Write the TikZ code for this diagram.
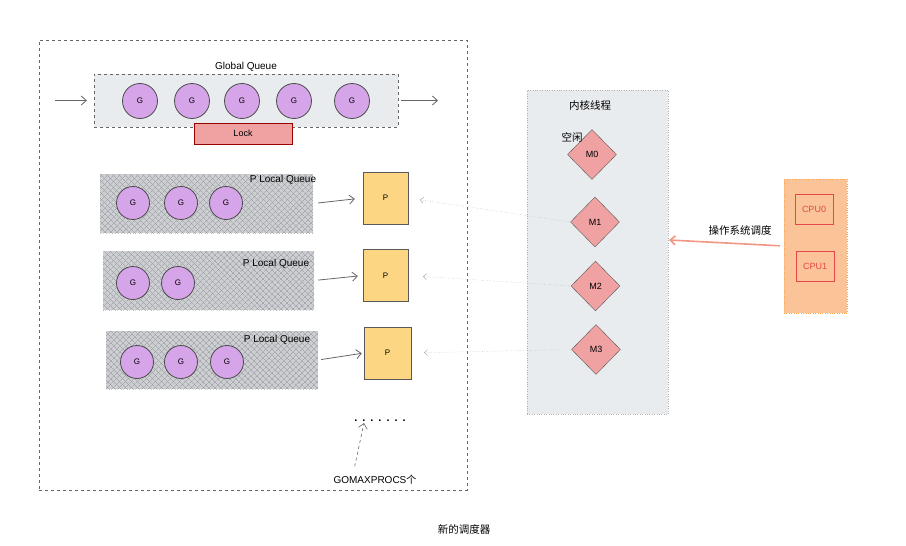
\documentclass[tikz,border=0pt]{standalone}
\usepackage{fontspec}
\setmainfont{Liberation Sans}
\newfontfamily\cjk{Noto Sans CJK SC}
\usetikzlibrary{positioning,shapes.geometric,arrows.meta,patterns.meta}
\definecolor{gpurple}{RGB}{214,164,232}
\definecolor{pyellow}{RGB}{252,214,130}
\definecolor{mpink}{RGB}{240,162,162}
\definecolor{lightpanel}{RGB}{233,236,239}
\definecolor{queuegray}{RGB}{204,206,209}
\definecolor{hatchgray}{RGB}{145,148,153}
\definecolor{cpupeach}{RGB}{250,196,152}
\definecolor{cpured}{RGB}{228,72,72}
\definecolor{osarrow}{RGB}{240,150,130}
\begin{document}
\begin{tikzpicture}[x=1pt,y=-1pt,
  gnode/.style={circle,draw=black!70,thick,fill=gpurple,minimum size=#1,inner sep=0,
    font=\fontsize{8}{9}\selectfont},
  gnode/.default=35pt,
  gqbox/.style={draw=black!60,dashed,preaction={fill=lightpanel},
    pattern={Lines[angle=45,distance=4pt,line width=0.3pt]},pattern color=black!8},
  lqbox/.style={preaction={fill=queuegray},
    preaction={pattern={Lines[angle=45,distance=4pt,line width=0.4pt]},pattern color=hatchgray},
    pattern={Lines[angle=-45,distance=4pt,line width=0.4pt]},pattern color=hatchgray},
  lockbox/.style={draw=red!60!black,fill=mpink,font=\fontsize{9}{10}\selectfont},
  pbox/.style={draw=black!65,fill=pyellow,minimum width=45pt,minimum height=52pt,
    font=\fontsize{8}{9}\selectfont},
  mnode/.style={diamond,draw=black!65,fill=mpink,minimum width=49pt,minimum height=50pt,
    inner sep=0,font=\fontsize{9}{10}\selectfont},
  panel/.style={draw=black!30,dotted,fill=lightpanel},
  cpupanel/.style={draw=orange!70,dotted,fill=cpupeach},
  cpubox/.style={draw=cpured,text=cpured,minimum width=38pt,minimum height=30pt,
    font=\fontsize{9}{10}\selectfont},
  qlabel/.style={font=\fontsize{10}{11}\selectfont,inner sep=1pt},
  cjklabel/.style={font=\cjk\fontsize{10.5}{12}\selectfont,inner sep=1pt},
  arr/.style={-{Straight Barb[length=5pt,width=9pt]},draw=black!60,thick},
  mlink/.style={-{Straight Barb[length=3pt,width=6pt]},draw=black!40,dotted},
  oslink/.style={-{Straight Barb[length=5pt,width=9pt]},draw=osarrow,line width=1.6pt}]

  \useasboundingbox (0,0) rectangle (906,546);

  % outer frame
  \node[draw=black!60,dashed,minimum width=428pt,minimum height=450pt] (frame) at (253,265) {};

  % global queue with lock
  \node[gqbox,minimum width=304pt,minimum height=53pt] (gq) at (246,100.5) {};
  \node[qlabel,above=1pt of gq] (gqlabel) {Global Queue};
  \foreach \x [count=\i] in {140,192,242,294,352}
    \node[gnode] (gq-\i) at (\x,101) {G};
  \node[lockbox,minimum width=98pt,minimum height=21pt] (lock) at (243,133.5) {Lock};
  \coordinate (gin) at (55,100.5);
  \coordinate (gout) at (438,100.5);
  \draw[arr,shorten >=7pt] (gin) -- (gq.west);
  \draw[arr,shorten <=3pt] (gq.east) -- (gout);

  % local queues
  \node[lqbox,minimum width=213pt,minimum height=59pt] (lq1) at (206.5,203.5) {};
  \node[lqbox,minimum width=211pt,minimum height=59pt] (lq2) at (208.5,280.5) {};
  \node[lqbox,minimum width=212pt,minimum height=58pt] (lq3) at (212,360) {};
  \node[qlabel] (lql1) at (283,180) {P Local Queue};
  \node[qlabel] (lql2) at (276,264) {P Local Queue};
  \node[qlabel] (lql3) at (277,340) {P Local Queue};
  \foreach \x [count=\i] in {133,181,226}
    \node[gnode=33pt] (lq1-\i) at (\x,203) {G};
  \foreach \x [count=\i] in {133,178}
    \node[gnode=33pt] (lq2-\i) at (\x,283) {G};
  \foreach \x [count=\i] in {137,181,227}
    \node[gnode=33pt] (lq3-\i) at (\x,362) {G};

  % processors
  \node[pbox] (p1) at (385.5,198) {P};
  \node[pbox] (p2) at (385.5,275.5) {P};
  \node[pbox,minimum width=47pt] (p3) at (387.5,353) {P};
  \draw[arr,shorten <=5pt,shorten >=8pt] (lq1.east) -- (p1.west);
  \draw[arr,shorten <=4pt,shorten >=5pt] (lq2.east) -- (p2.west);
  \draw[arr,shorten <=3pt,shorten >=2pt] (lq3.east) -- (p3.west);

  \node[qlabel,font=\fontsize{11}{12}\selectfont\bfseries] (dots) at (380,421) {.\hspace{5pt}.\hspace{5pt}.\hspace{5pt}.\hspace{5pt}.\hspace{5pt}.\hspace{5pt}.};
  \node[qlabel] (gmp) at (375,480) {GOMAXPROCS{\cjk 个}};
  \draw[arr,dashed,semithick,shorten <=8pt] ([xshift=-22pt]gmp.north) -- ([xshift=-16pt]dots.south);

  % kernel threads
  \node[panel,minimum width=141pt,minimum height=324pt] (kpanel) at (597.5,252) {};
  \node[cjklabel] (klabel) at (590,105) {内核线程};
  \node[mnode] (m0) at (592,154.5) {M0};
  \node[mnode] (m1) at (595,222) {M1};
  \node[mnode] (m2) at (595.5,286) {M2};
  \node[mnode] (m3) at (596,349.5) {M3};
  \node[cjklabel] (idle) at (572,137) {空闲};
  \draw[mlink,shorten <=2pt,shorten >=12pt] (m1.west) -- (p1.east);
  \draw[mlink,shorten <=2pt,shorten >=15pt] (m2.west) -- (p2.east);
  \draw[mlink,shorten <=12pt,shorten >=13pt] (m3.west) -- (p3.east);

  % cpus
  \node[cpupanel,minimum width=63pt,minimum height=134pt] (cpu) at (815.5,246) {};
  \node[cpubox] (cpu0) at (814,209.5) {CPU0};
  \node[cpubox] (cpu1) at (815,266.5) {CPU1};
  \coordinate (osend) at (669,240);
  \draw[oslink,shorten <=4pt] (cpu.west) -- (osend);
  \node[cjklabel] (oslabel) at (740,230) {操作系统调度};

  \node[cjklabel] (caption) at (464,529) {新的调度器};
\end{tikzpicture}
\end{document}
